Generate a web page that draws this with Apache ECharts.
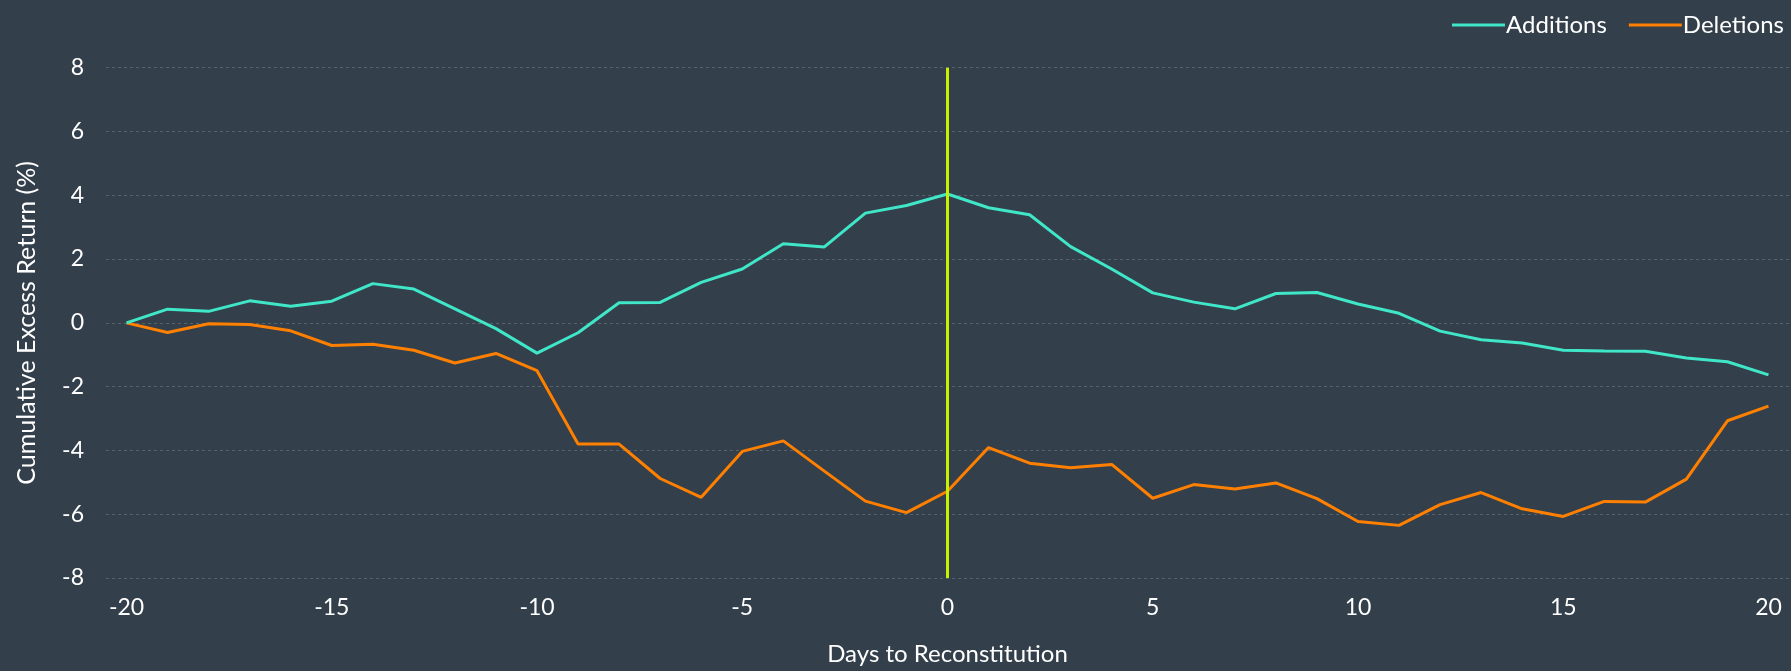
<!DOCTYPE html>
<html>
<head>
<meta charset="utf-8">
<script src="https://cdn.jsdelivr.net/npm/echarts@6/dist/echarts.min.js"></script>
<style>
html,body{margin:0;padding:0;background:#333f4a;}
#chart{width:1791px;height:671px;}
</style>
</head>
<body>
<div id="chart"></div>
<script>
const days = [];
for (let d = -20; d <= 20; d++) days.push(String(d));

const additions = [0, 0.43, 0.36, 0.69, 0.52, 0.68, 1.23, 1.06, 0.44, -0.18,
  -0.95, -0.31, 0.63, 0.64, 1.27, 1.69, 2.48, 2.38, 3.44, 3.68,
  4.04, 3.61, 3.39, 2.39, 1.69, 0.94, 0.65, 0.44, 0.92, 0.95,
  0.59, 0.30, -0.26, -0.53, -0.63, -0.86, -0.88, -0.89, -1.10, -1.22, -1.63];

const deletions = [0, -0.30, -0.03, -0.05, -0.25, -0.71, -0.67, -0.86, -1.26, -0.96,
  -1.50, -3.80, -3.80, -4.88, -5.47, -4.03, -3.70, -4.65, -5.59, -5.95,
  -5.28, -3.91, -4.40, -4.54, -4.44, -5.50, -5.07, -5.21, -5.02, -5.51,
  -6.23, -6.35, -5.70, -5.32, -5.83, -6.07, -5.60, -5.62, -4.90, -3.07, -2.61];

const seriesNames = ['Additions', 'Deletions'];
const xAxisName = 'Days to Reconstitution';
const yAxisName = 'Cumulative Excess Return (%)';
const eventDay = '0';

const font = 'Lato, "Open Sans", sans-serif';
const chart = echarts.init(document.getElementById('chart'), null, {renderer: 'canvas'});
chart.setOption({
  backgroundColor: '#333f4a',
  animation: false,
  textStyle: {fontFamily: font},
  legend: {
    right: 2, top: 8,
    itemWidth: 53, itemHeight: 3, itemGap: 22,
    icon: 'rect',
    textStyle: {color: '#ffffff', fontSize: 24, fontFamily: font, padding: [0,0,0,-4]},
    data: seriesNames
  },
  grid: {left: 106, right: 2, top: 67.7, bottom: 88.3, containLabel: false},
  xAxis: {
    type: 'category',
    data: days,
    boundaryGap: true,
    name: xAxisName,
    nameLocation: 'middle',
    nameGap: 64,
    nameTextStyle: {color: '#ffffff', fontSize: 24, fontFamily: font},
    axisLine: {show: false},
    axisTick: {show: false},
    axisLabel: {interval: 4, color: '#ffffff', fontSize: 23, margin: 18, fontFamily: font},
    splitLine: {show: false}
  },
  yAxis: {
    type: 'value',
    min: -8, max: 8, interval: 2,
    name: yAxisName,
    nameLocation: 'middle',
    nameGap: 67,
    nameTextStyle: {color: '#ffffff', fontSize: 25, fontFamily: font},
    axisLine: {show: false},
    axisTick: {show: false},
    axisLabel: {color: '#ffffff', fontSize: 23, margin: 22, fontFamily: font},
    splitLine: {show: true, lineStyle: {color: '#56626c', type: [3, 3], width: 1}}
  },
  series: [
    {
      name: seriesNames[0], type: 'line', data: additions,
      symbol: 'none', color: '#40e6c8',
      lineStyle: {width: 3, color: '#40e6c8'},
      markLine: {
        silent: true, symbol: 'none',
        label: {show: false},
        lineStyle: {color: '#c8f000', width: 3, type: 'solid'},
        data: [{xAxis: eventDay}]
      },
      z: 3
    },
    {
      name: seriesNames[1], type: 'line', data: deletions,
      symbol: 'none', color: '#ff8000',
      lineStyle: {width: 3, color: '#ff8000'},
      z: 2
    }
  ]
});
</script>
</body>
</html>
